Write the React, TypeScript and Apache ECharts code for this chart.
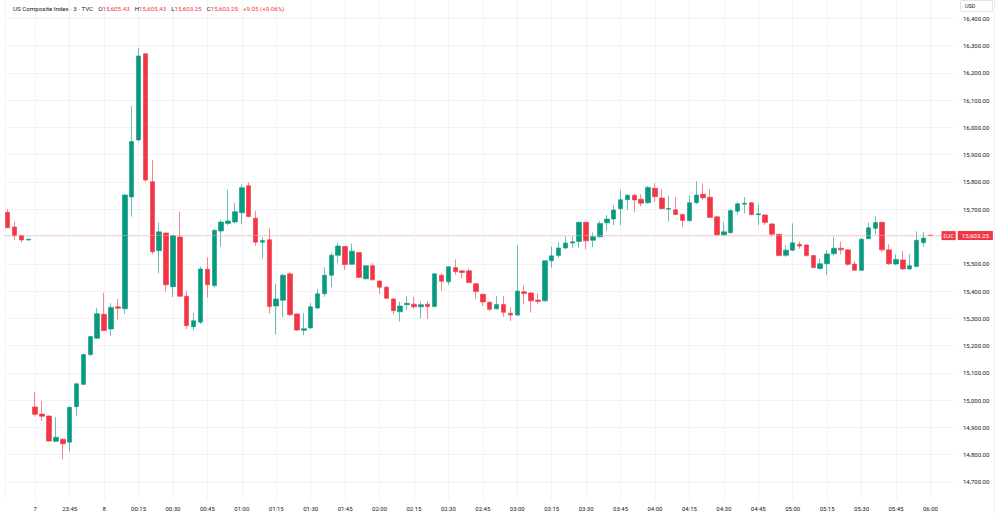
import React, { useEffect, useRef } from "react";
import * as echarts from "echarts";

// ---- data ----
const startTime = "23:18"; // first 3-minute candle
const candleMinutes = 3;
const extraSlots = 3; // empty slots on the right of the last candle

const tickLabels = [
  "7", "23:45", "8", "00:15", "00:30", "00:45", "01:00", "01:15", "01:30",
  "01:45", "02:00", "02:15", "02:30", "02:45", "03:00", "03:15", "03:30",
  "03:45", "04:00", "04:15", "04:30", "04:45", "05:00", "05:15", "05:30",
  "05:45", "06:00",
];
const firstTickIndex = 4;
const tickEvery = 5;

const opens = [
  15689, 15635, 15604, 15587, 14975, 14949, 14942, 14849, 14857, 14846,
  14976, 15058, 15167, 15227, 15315, 15261, 15342, 15335, 15745, 15954,
  16270, 15801, 15548, 15613, 15416, 15598, 15381, 15269, 15286, 15480,
  15420, 15620, 15648, 15653, 15687, 15786, 15667, 15579, 15588, 15345,
  15366, 15463, 15316, 15256, 15265, 15338, 15390, 15458, 15531, 15563,
  15498, 15541, 15445, 15493, 15437, 15414, 15371, 15324, 15350, 15352,
  15342, 15352, 15343, 15458, 15434, 15486, 15474, 15474, 15427, 15388,
  15359, 15335, 15351, 15319, 15312, 15397, 15393, 15367, 15364, 15511,
  15530, 15558, 15576, 15582, 15652, 15586, 15599, 15650, 15664, 15702,
  15735, 15751, 15737, 15724, 15777, 15741, 15700, 15698, 15681, 15658,
  15724, 15755, 15744, 15672, 15606, 15614, 15693, 15718, 15724, 15680,
  15679, 15646, 15608, 15531, 15550, 15571, 15569, 15530, 15483, 15500,
  15537, 15557, 15551, 15499, 15476, 15592, 15630, 15652, 15551, 15499,
  15514, 15481, 15490, 15577, 15605.43,
];
const closes = [
  15632, 15603, 15587, 15590, 14948, 14941, 14850, 14864, 14840, 14974,
  15060, 15167, 15233, 15317, 15255, 15340, 15337, 15752, 15948, 16262,
  15807, 15544, 15617, 15423, 15604, 15381, 15273, 15291, 15481, 15423,
  15623, 15653, 15657, 15691, 15779, 15673, 15579, 15585, 15343, 15371,
  15458, 15313, 15257, 15262, 15342, 15390, 15458, 15531, 15565, 15497,
  15546, 15450, 15493, 15441, 15414, 15374, 15328, 15345, 15355, 15342,
  15350, 15343, 15463, 15436, 15489, 15471, 15468, 15431, 15398, 15360,
  15333, 15351, 15322, 15312, 15400, 15391, 15364, 15362, 15511, 15529,
  15558, 15576, 15581, 15652, 15584, 15599, 15648, 15664, 15697, 15735,
  15751, 15734, 15722, 15780, 15746, 15702, 15703, 15681, 15659, 15724,
  15752, 15742, 15670, 15606, 15617, 15695, 15720, 15722, 15680, 15683,
  15651, 15608, 15530, 15550, 15577, 15565, 15530, 15486, 15500, 15536,
  15557, 15551, 15498, 15476, 15590, 15632, 15651, 15551, 15500, 15516,
  15481, 15493, 15586, 15594.2, 15603.25,
];
const lows = [
  15630, 15586, 15577, 15585, 14940, 14924, 14848, 14847, 14783, 14811,
  14943, 15055, 15162, 15225, 15253, 15236, 15296, 15316, 15673, 15950,
  15800, 15536, 15465, 15398, 15378, 15379, 15261, 15257, 15279, 15376,
  15412, 15563, 15640, 15648, 15645, 15670, 15566, 15519, 15317, 15241,
  15305, 15309, 15254, 15237, 15262, 15333, 15379, 15414, 15502, 15477,
  15496, 15448, 15443, 15439, 15389, 15370, 15315, 15288, 15331, 15336,
  15300, 15298, 15341, 15401, 15423, 15460, 15447, 15429, 15372, 15345,
  15327, 15332, 15306, 15290, 15309, 15352, 15321, 15352, 15361, 15486,
  15520, 15553, 15557, 15557, 15553, 15561, 15597, 15622, 15642, 15642,
  15697, 15689, 15711, 15720, 15726, 15700, 15654, 15678, 15634, 15656,
  15720, 15735, 15668, 15603, 15602, 15610, 15680, 15685, 15678, 15642,
  15642, 15600, 15527, 15525, 15546, 15555, 15526, 15484, 15478, 15458,
  15530, 15534, 15493, 15474, 15474, 15590, 15608, 15542, 15496, 15494,
  15478, 15478, 15488, 15562, 15603.25,
];
const highs = [
  15700, 15653, 15606, 15591, 15031, 14997, 14944, 14938, 14860, 14976,
  15062, 15170, 15236, 15338, 15394, 15355, 15371, 15755, 16078, 16291,
  16272, 15880, 15651, 15615, 15606, 15691, 15401, 15320, 15489, 15524,
  15626, 15660, 15771, 15722, 15791, 15799, 15694, 15597, 15630, 15426,
  15463, 15469, 15318, 15319, 15355, 15408, 15487, 15540, 15577, 15565,
  15574, 15543, 15495, 15502, 15439, 15419, 15375, 15361, 15382, 15379,
  15361, 15363, 15466, 15466, 15492, 15516, 15476, 15481, 15430, 15391,
  15362, 15382, 15382, 15341, 15566, 15420, 15397, 15390, 15513, 15563,
  15579, 15600, 15600, 15654, 15655, 15615, 15657, 15679, 15715, 15771,
  15755, 15755, 15755, 15785, 15795, 15774, 15750, 15745, 15684, 15750,
  15802, 15795, 15774, 15676, 15654, 15700, 15727, 15745, 15726, 15716,
  15682, 15650, 15610, 15568, 15648, 15582, 15571, 15533, 15519, 15551,
  15597, 15582, 15553, 15509, 15595, 15652, 15674, 15656, 15571, 15535,
  15547, 15535, 15619, 15617, 15605.43,
];

const lastPrice = 15603.25;
const symbolTag = "DJC";
const currency = "USD";
const headerName = "US Composite Index · 3 · TVC";
const headerOpen = "15,605.43";
const headerHigh = "15,605.43";
const headerLow = "15,603.25";
const headerClose = "15,603.25";
const headerChange = "+9.05 (+0.06%)";

const yMin = 14634;
const yMax = 16467;
const yStep = 100;

// ---- helpers ----
const pad2 = (n: number) => (n < 10 ? "0" + n : "" + n);
const buildCategories = () => {
  const [h, m] = startTime.split(":").map(Number);
  const start = h * 60 + m;
  const out: string[] = [];
  for (let i = 0; i < opens.length + extraSlots; i++) {
    const t = (start + i * candleMinutes) % 1440;
    out.push(pad2(Math.floor(t / 60)) + ":" + pad2(t % 60));
  }
  return out;
};
const fmtPrice = (v: number) =>
  v.toLocaleString("en-US", { minimumFractionDigits: 2, maximumFractionDigits: 2 });

const UP = "#089981";
const DOWN = "#F23645";
const FONT = "Roboto, 'Noto Sans', sans-serif";
const GRID = "#f2f3f6";

export default function App() {
  const ref = useRef<HTMLDivElement>(null);
  useEffect(() => {
    if (!ref.current) return;
    const chart = echarts.init(ref.current, undefined, { renderer: "svg" });
    const categories = buildCategories();
    const candles = opens.map((o, i) => [o, closes[i], lows[i], highs[i]]);
    const isTick = (index: number) =>
      index >= firstTickIndex && (index - firstTickIndex) % tickEvery === 0;

    const headStyle = (color: string) => ({
      color,
      fontSize: 6.2,
      fontFamily: FONT,
      fontWeight: "normal" as const,
    });

    chart.setOption({
      animation: false,
      backgroundColor: "#ffffff",
      textStyle: { fontFamily: FONT },
      title: {
        left: 8,
        top: 1,
        text:
          `{n|${headerName}}{s|}{k|O}{v|${headerOpen}}{s|}{k|H}{v|${headerHigh}}{s|}` +
          `{k|L}{v|${headerLow}}{s|}{k|C}{v|${headerClose}}{s|}{v|${headerChange}}`,
        textStyle: {
          fontSize: 6.2,
          fontWeight: "normal",
          fontFamily: FONT,
          rich: {
            n: headStyle("#131722"),
            k: headStyle("#131722"),
            v: headStyle(DOWN),
            s: { width: 5 },
          },
        },
      },
      grid: { left: 4.26, right: 45.5, top: 0, bottom: 14 },
      xAxis: {
        type: "category",
        data: categories,
        boundaryGap: true,
        axisLine: { show: false },
        axisTick: { show: false },
        axisLabel: {
          interval: (index: number) => isTick(index),
          formatter: (_v: string, index: number) =>
            isTick(index) ? tickLabels[(index - firstTickIndex) / tickEvery] ?? "" : "",
          color: "#131722",
          fontSize: 6,
          fontFamily: FONT,
          margin: 5,
        },
        splitLine: {
          show: true,
          interval: (index: number) => isTick(index),
          alignWithLabel: true,
          lineStyle: { color: GRID, width: 1 },
        },
      },
      yAxis: {
        type: "value",
        position: "right",
        min: yMin,
        max: yMax,
        splitNumber: 18,
        minInterval: yStep,
        maxInterval: yStep,
        axisLine: { show: false },
        axisTick: { show: false },
        axisLabel: {
          showMinLabel: false,
          showMaxLabel: false,
          formatter: (v: number) => (v % yStep === 0 ? fmtPrice(v) : ""),
          color: "#131722",
          fontSize: 6,
          fontFamily: FONT,
          margin: 8.5,
        },
        splitLine: {
          show: true,
          showMinLine: false,
          showMaxLine: false,
          lineStyle: { color: GRID, width: 1 },
        },
      },
      series: [
        {
          type: "candlestick",
          data: candles,
          barWidth: 5,
          itemStyle: {
            color: UP,
            color0: DOWN,
            borderColor: "rgba(8,153,129,0.6)",
            borderColor0: "rgba(242,54,69,0.6)",
            borderWidth: 1,
          },
          markLine: {
            silent: true,
            symbol: ["none", "none"],
            data: [{ yAxis: lastPrice }],
            lineStyle: { color: "#f7a3ab", type: "dotted", width: 1 },
            label: {
              show: true,
              position: "end",
              distance: -13,
              formatter: () => `{a|${symbolTag}}{g|}{b|${fmtPrice(lastPrice)}}`,
              rich: {
                a: {
                  backgroundColor: DOWN,
                  color: "#ffffff",
                  fontSize: 5.5,
                  fontFamily: FONT,
                  padding: [2, 2, 1, 2],
                },
                g: { width: 2 },
                b: {
                  backgroundColor: DOWN,
                  color: "#ffffff",
                  fontSize: 6.2,
                  fontFamily: FONT,
                  padding: [2, 4, 1, 4],
                },
              },
            },
          },
        },
      ],
      graphic: [
        {
          type: "rect",
          shape: { x: 960.5, y: 0.5, width: 32, height: 11, r: 1 },
          style: { fill: "#ffffff", stroke: "#e0e3eb", lineWidth: 1 },
        },
        {
          type: "text",
          x: 965,
          y: 6,
          style: {
            text: currency,
            fontSize: 5.5,
            fontFamily: FONT,
            fill: "#131722",
            verticalAlign: "middle",
          },
        },
        {
          type: "line",
          shape: { x1: 994.5, y1: 0, x2: 994.5, y2: 514 },
          style: { stroke: "#eef0f3", lineWidth: 1 },
        },
        {
          type: "line",
          shape: { x1: 5.5, y1: 0, x2: 5.5, y2: 500 },
          style: { stroke: GRID, lineWidth: 1 },
        },
      ],
    });
    return () => chart.dispose();
  }, []);
  return (
    <div
      ref={ref}
      style={{ position: "fixed", left: 0, top: 0, width: 1000, height: 514 }}
    />
  );
}
